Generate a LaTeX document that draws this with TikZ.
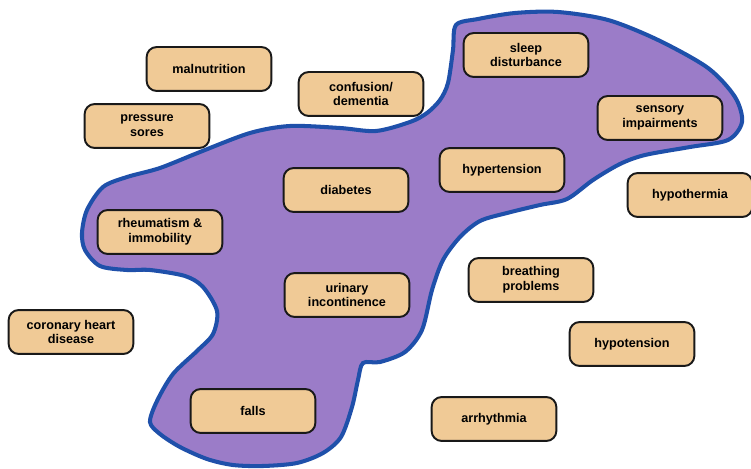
\documentclass[tikz,border=0pt]{standalone}
\usepackage{fontspec}
\setmainfont{Liberation Sans}
\usepackage{xcolor}
\usepackage{tikz}
\usetikzlibrary{positioning,calc}
\definecolor{boxtan}{HTML}{F0CA96}
\definecolor{blobfill}{HTML}{9B7CC8}
\definecolor{blobline}{HTML}{1F50AA}

\tikzset{
  cond/.style={draw=black!90, line width=1.1pt, fill=boxtan, rounded corners=5.7pt,
    minimum width=71pt, minimum height=25pt, inner sep=0pt, align=center,
    font=\fontsize{7.2}{8.5}\selectfont\bfseries}
}

\begin{document}
\begin{tikzpicture}[x=0.02cm, y=-0.02cm]
  \useasboundingbox (0,0) rectangle (751,469);

  % Shared region
  \draw[line width=2.3pt, blobline, fill=blobfill]
    plot[smooth cycle, tension=0.5] coordinates {
      (456,25) (478,19) (515,13) (558,12) (608,20) (658,40) (708,68)
      (735,97) (742,122) (728,140) (690,147) (645,155) (620,164)
      (593,180) (567,199) (540,205) (507,213) (480,221) (460,237)
      (443,260) (432,290) (422,330) (405,352) (380,362) (363,363)
      (358,380) (352,407) (341,437) (323,453) (297,463) (263,466)
      (233,465) (207,459) (180,447) (160,434) (150,422) (157,401)
      (173,374) (197,351) (213,334) (217,311) (203,287) (185,276)
      (150,270) (127,270) (100,266) (85,250) (82,233) (87,210)
      (103,187) (127,177) (160,168) (200,152) (250,133) (290,126)
      (340,128) (376,131) (410,122) (427,113) (440,100) (448,83)
      (453,50)};

  % Inside
  \node[cond] (sleep)    at (526,55)  {sleep\\disturbance};
  \node[cond] (sensory)  at (660,118) {sensory\\impairments};
  \node[cond] (hypert)   at (502,170) {hypertension};
  \node[cond] (diabetes) at (346,190) {diabetes};
  \node[cond] (rheum)    at (160,232) {rheumatism \&\\immobility};
  \node[cond] (urinary)  at (347,295) {urinary\\incontinence};
  \node[cond] (falls)    at (253,411) {falls};

  % Outside
  \node[cond] (malnut)    at (209,69)  {malnutrition};
  \node[cond] (pressure)  at (147,126) {pressure\\sores};
  \node[cond] (confusion) at (361,94)  {confusion/\\dementia};
  \node[cond] (hypoth)    at (690,195) {hypothermia};
  \node[cond] (coronary)  at (71,332)  {coronary heart\\disease};
  \node[cond] (breath)    at (531,280) {breathing\\problems};
  \node[cond] (hypot)     at (632,344) {hypotension};
  \node[cond] (arrhyth)   at (494,419) {arrhythmia};
\end{tikzpicture}
\end{document}
